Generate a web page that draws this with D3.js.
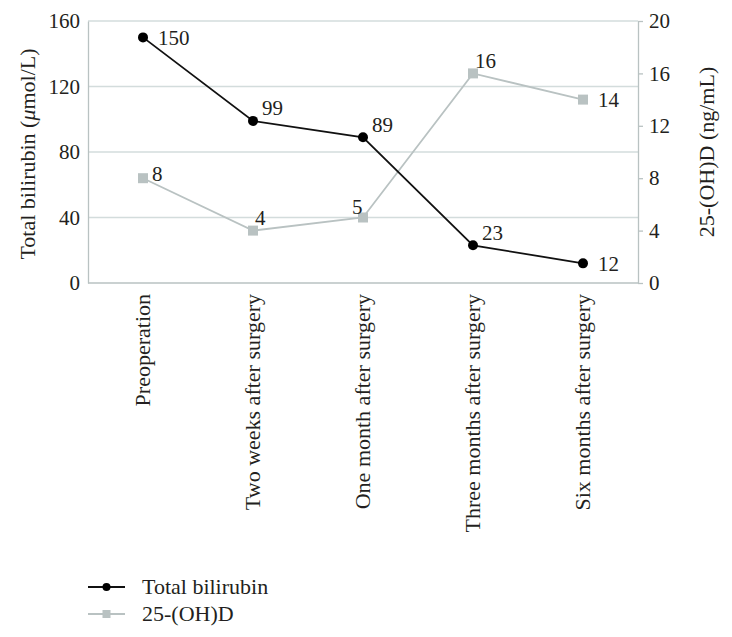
<!DOCTYPE html>
<html><head><meta charset="utf-8">
<script src="https://cdn.jsdelivr.net/npm/d3@7"></script>
</head><body style="margin:0">
<svg id="c" width="732" height="637" style="display:block;font-family:'Liberation Serif','Times New Roman',Times,serif"></svg>
<script>
const categories = ["Preoperation","Two weeks after surgery","One month after surgery","Three months after surgery","Six months after surgery"];
const bilirubin = [150, 99, 89, 23, 12];
const vitD = [8, 4, 5, 16, 14];
const leftTicks = [0, 40, 80, 120, 160];
const rightTicks = [0, 4, 8, 12, 16, 20];
// label placement styles per point
const biliLabelPos = ["right","upright","upright","upright","right"];
const vitLabelPos = ["nearright","up","upleft","up","right"];

const SERIF = "Liberation Serif";
const svg = d3.select("#c");
const textColor = "#231f20";
const grey = "#b9c2c2";
const m = {l:88, r:638, t:21, b:283};
const x = d3.scaleBand().domain(categories).range([m.l, m.r]);
const cx = d => x(d) + x.bandwidth()/2;
const yL = d3.scaleLinear().domain([0,160]).range([m.b, m.t]);
const yR = d3.scaleLinear().domain([0,20]).range([m.b, m.t]);

// gridlines
svg.append("g").selectAll("line").data(leftTicks.filter(t=>t>0)).join("line")
  .attr("x1", m.l).attr("x2", m.r).attr("y1", d=>yL(d)).attr("y2", d=>yL(d))
  .attr("stroke", "#d3dcdc").attr("stroke-width", 1.3);

// left axis
const gL = svg.append("g").attr("transform", `translate(${m.l},0)`)
  .call(d3.axisLeft(yL).tickValues(leftTicks).tickSize(0).tickPadding(8));
gL.attr("font-family", null).attr("font-size", null);
gL.select(".domain").attr("stroke", grey).attr("stroke-width", 1.3);
gL.selectAll("text").attr("font-size", 21).attr("fill", textColor);

// right axis
const gR = svg.append("g").attr("transform", `translate(${m.r},0)`)
  .call(d3.axisRight(yR).tickValues(rightTicks).tickSize(5).tickSizeOuter(0).tickPadding(6));
gR.attr("font-family", null).attr("font-size", null);
gR.select(".domain").attr("stroke", grey).attr("stroke-width", 1.3);
gR.selectAll(".tick line").attr("stroke", grey).attr("stroke-width", 1.3);
gR.selectAll("text").attr("font-size", 21).attr("fill", textColor);

// bottom axis line
svg.append("line").attr("x1", m.l).attr("x2", m.r).attr("y1", m.b).attr("y2", m.b)
  .attr("stroke", grey).attr("stroke-width", 1.3);

// x labels
const gX = svg.append("g").attr("transform", `translate(0,${m.b})`)
  .call(d3.axisBottom(x).tickSize(0).tickPadding(0));
gX.attr("font-family", null).attr("font-size", null);
gX.select(".domain").remove();
gX.selectAll("text").attr("font-size", 22).attr("fill", textColor)
  .attr("text-anchor", "end").attr("transform", "rotate(-90)")
  .attr("x", -11).attr("y", 0).attr("dy", "0.3em");

// axis titles
const t1 = svg.append("text").attr("transform", `translate(27,${(m.t+m.b)/2+2}) rotate(-90)`)
  .attr("text-anchor","middle").attr("dy","0.35em").attr("font-size", 22).attr("fill", textColor);
t1.append("tspan").text("Total bilirubin (");
t1.append("tspan").attr("font-style","italic").text("μ");
t1.append("tspan").text("mol/L)");
svg.append("text").attr("transform", `translate(706,${(m.t+m.b)/2}) rotate(-90)`)
  .attr("text-anchor","middle").attr("dy","0.35em").attr("font-size", 22).attr("fill", textColor)
  .text("25-(OH)D (ng/mL)");

const offs = {right:[15,0], upright:[9,-13], nearright:[9,-5], up:[2,-13], upleft:[-11,-11]};

// vitD series
const lineR = d3.line().x((d,i)=>cx(categories[i])).y(d=>yR(d));
svg.append("path").datum(vitD).attr("d", lineR).attr("fill","none")
  .attr("stroke",grey).attr("stroke-width",1.8);
svg.append("g").selectAll("rect").data(vitD).join("rect")
  .attr("x",(d,i)=>cx(categories[i])-5).attr("y",d=>yR(d)-5).attr("width",10).attr("height",10)
  .attr("fill",grey);
svg.append("g").selectAll("text").data(vitD).join("text")
  .attr("x",(d,i)=>cx(categories[i])+offs[vitLabelPos[i]][0])
  .attr("y",(d,i)=>yR(d)+offs[vitLabelPos[i]][1]).attr("dy","0.35em")
  .attr("font-size", 21).attr("fill", textColor).text(d=>d);

// bilirubin series
const lineL = d3.line().x((d,i)=>cx(categories[i])).y(d=>yL(d));
svg.append("path").datum(bilirubin).attr("d", lineL).attr("fill","none")
  .attr("stroke","#111").attr("stroke-width",1.8);
svg.append("g").selectAll("circle").data(bilirubin).join("circle")
  .attr("cx",(d,i)=>cx(categories[i])).attr("cy",d=>yL(d)).attr("r",5).attr("fill","#000");
svg.append("g").selectAll("text").data(bilirubin).join("text")
  .attr("x",(d,i)=>cx(categories[i])+offs[biliLabelPos[i]][0])
  .attr("y",(d,i)=>yL(d)+offs[biliLabelPos[i]][1]).attr("dy","0.35em")
  .attr("font-size", 21).attr("fill", textColor).text(d=>d);

// legend
const legend = [{name:"Total bilirubin", color:"#111", shape:"circle"},{name:"25-(OH)D", color:grey, shape:"rect"}];
const lg = svg.append("g").selectAll("g").data(legend).join("g")
  .attr("transform",(d,i)=>`translate(88,${587+i*27})`);
lg.append("line").attr("x1",0).attr("x2",37).attr("stroke",d=>d.color).attr("stroke-width",1.8);
lg.filter(d=>d.shape==="circle").append("circle").attr("cx",18.5).attr("r",4).attr("fill","#000");
lg.filter(d=>d.shape==="rect").append("rect").attr("x",14.5).attr("y",-4).attr("width",8).attr("height",8).attr("fill",grey);
lg.append("text").attr("x",54).attr("dy","0.3em").attr("font-size", 22)
  .attr("fill", textColor).text(d=>d.name);

svg.selectAll("text").attr("font-family", SERIF).style("font-family", `"${SERIF}"`);
</script>
</body></html>
